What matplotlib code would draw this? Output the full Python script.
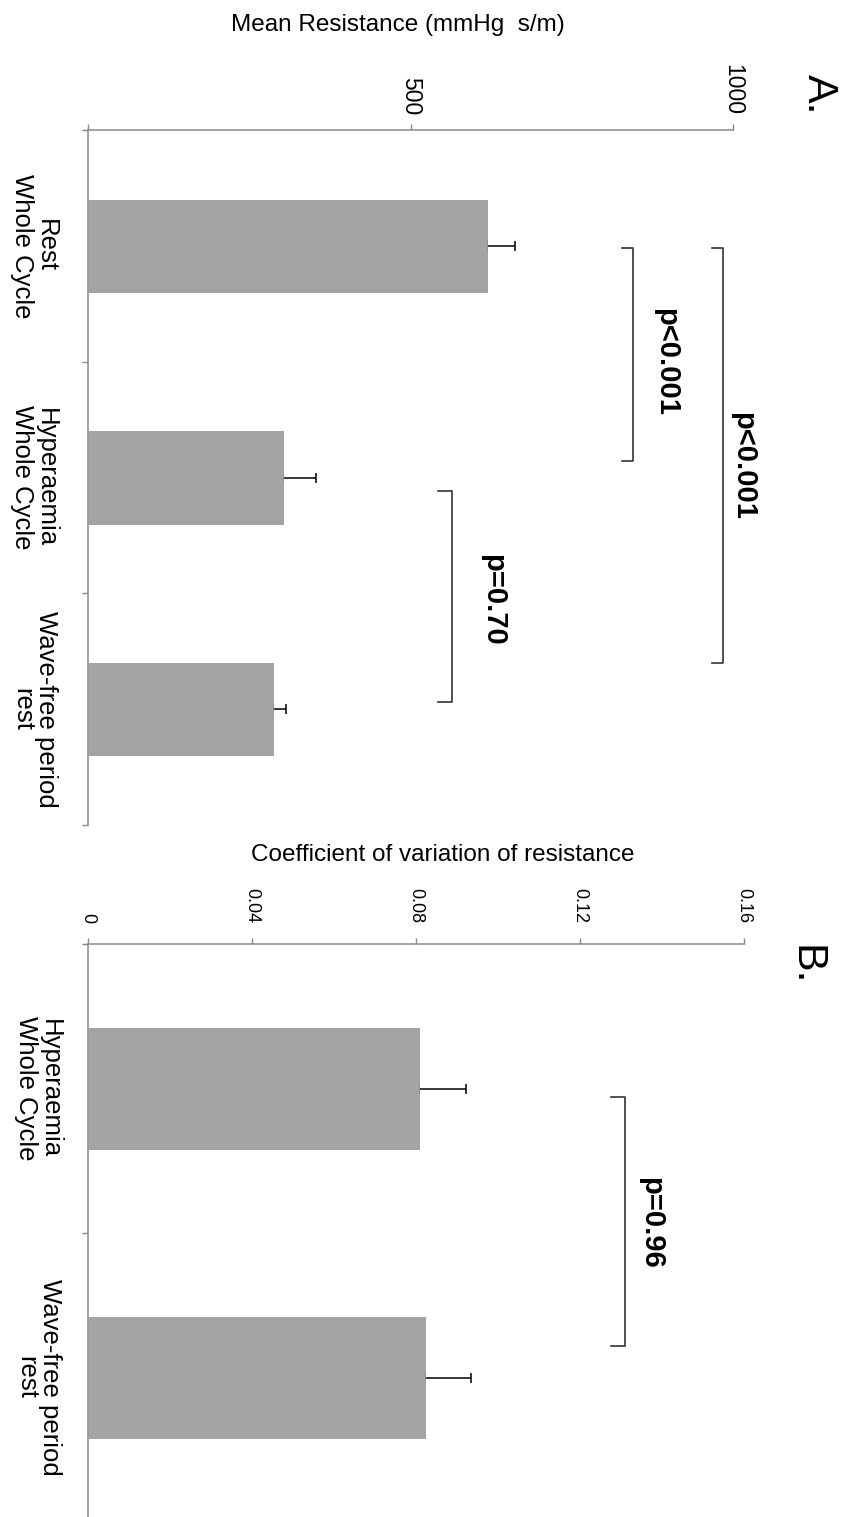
import matplotlib
matplotlib.use("Agg")
import matplotlib.pyplot as plt

plt.rcParams['font.family'] = ['Liberation Sans', 'DejaVu Sans']

# panel A: mean resistance (mmHg s/m)
cats_a = ['Rest\nWhole Cycle', 'Hyperaemia\nWhole Cycle', 'Wave-free period\nrest']
mean_a = [619, 303, 287]
err_a = [43, 50, 20]
ticks_a = [0, 500, 1000]
ticklabels_a = ['', '500', '1000']

# panel B: coefficient of variation of resistance
cats_b = ['Hyperaemia\nWhole Cycle', 'Wave-free period\nrest']
cv_b = [0.0808, 0.0823]
err_b = [0.0115, 0.0112]
ticks_b = [0, 0.04, 0.08, 0.12, 0.16]
ticklabels_b = ['0', '0.04', '0.08', '0.12', '0.16']

# brackets: (y from, y to, x of bracket, tick length, label, label x, label y)
brackets_a = [
    (0.51, 1.43, 845, 17, 'p<0.001', 896, 1.00),
    (0.51, 2.30, 984, 17, 'p<0.001', 1015, 1.45),
    (1.56, 2.47, 564, 22, 'p=0.70', 628, 2.03),
]
brackets_b = [
    (0.53, 1.39, 0.1309, 0.0034, 'p=0.96', 0.1373, 0.965),
]

W, H = 848, 1517
GREY = '#8a8a8a'
BAR = '#a4a4a4'

fig = plt.figure(figsize=(W / 100, H / 100), dpi=100)


def axes_px(x0, y0, x1, y1):
    return fig.add_axes([x0 / W, 1 - y1 / H, (x1 - x0) / W, (y1 - y0) / H])


def draw_panel(ax, cats, vals, errs, ticks, ticklabels, xmax, barh, tick_fs, tick_pad,
               brackets, label_off):
    n = len(cats)
    pos = [i + 0.5 for i in range(n)]
    ax.set_xlim(0, xmax)
    ax.set_ylim(n, 0)
    ax.barh(pos, vals, height=barh, color=BAR, edgecolor='#999999', linewidth=0.6, zorder=3)
    ax.errorbar(vals, pos, xerr=[[0] * n, errs], fmt='none', ecolor='black',
                elinewidth=1.1, capsize=3.3, capthick=1.1, zorder=2)

    ax.xaxis.tick_top()
    ax.set_xticks(ticks)
    ax.set_xticklabels(ticklabels)
    ax.tick_params(axis='x', direction='out', length=4, width=1, color=GREY,
                   labelsize=tick_fs, labelrotation=-90, pad=tick_pad)
    ax.set_yticks(range(n + 1))
    ax.set_yticklabels([])
    ax.tick_params(axis='y', direction='out', length=4, width=1, color=GREY)
    for s in ['right', 'bottom']:
        ax.spines[s].set_visible(False)
    for s in ['top', 'left']:
        ax.spines[s].set_color(GREY)
        ax.spines[s].set_linewidth(1.1)

    for p, c in zip(pos, cats):
        ax.annotate(c, xy=(0, p), xycoords=('axes fraction', 'data'),
                    xytext=(label_off, 0), textcoords='offset pixels',
                    rotation=-90, ha='center', va='center', multialignment='center',
                    fontsize=18.5, linespacing=0.95)

    for y0, y1, x, tl, lab, lx, ly in brackets:
        ax.plot([x - tl, x, x, x - tl], [y0, y0, y1, y1], color='#333333',
                lw=1.2, clip_on=False)
        ax.text(lx, ly, lab, rotation=-90, ha='center', va='center',
                fontsize=21, fontweight='bold')


ax_a = axes_px(88, 130, 733, 825)
draw_panel(ax_a, cats_a, mean_a, err_a, ticks_a, ticklabels_a, 1000, 0.40, 16.5, 6.5,
           brackets_a, -54)

ax_b = axes_px(88, 944, 744, 1522)
draw_panel(ax_b, cats_b, cv_b, err_b, ticks_b, ticklabels_b, 0.16, 0.42, 13, 11,
           brackets_b, -50)

fig.text(398 / W, 1 - 25 / H, 'Mean Resistance (mmHg  s/m)', ha='center', va='center',
         fontsize=17.5)
fig.text(443 / W, 1 - 855 / H, 'Coefficient of variation of resistance', ha='center',
         va='center', fontsize=17.5)
fig.text(819 / W, 1 - 94 / H, 'A.', rotation=-90, ha='center', va='center', fontsize=31)
fig.text(805 / W, 1 - 965 / H, 'B.', rotation=-90, ha='center', va='center', fontsize=31)

fig.savefig('out.png', dpi=100, facecolor='white')
